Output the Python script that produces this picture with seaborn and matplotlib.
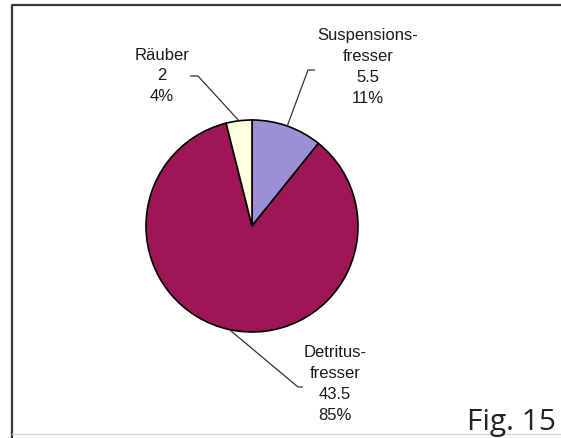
import matplotlib
matplotlib.use("Agg")
import matplotlib.pyplot as plt
import numpy as np
import seaborn as sns

# data
groups = ["Suspensions-\nfresser", "Detritus-\nfresser", "Räuber"]
values = [5.5, 43.5, 2]
colors = ["#9d8fd6", "#9e1656", "#ffffe0"]
fig_label = "Fig. 15"

sns.set_theme(style="white")
plt.rcParams["font.family"] = ["Liberation Sans", "DejaVu Sans"]

W, H = 561, 438
fig = plt.figure(figsize=(W / 100, H / 100), dpi=100, facecolor="white")
ax = fig.add_axes([0, 0, 1, 1])

cx, cy, r = 252, H - 226, 106
wedges, _ = ax.pie(values, colors=colors, startangle=90, counterclock=False,
                   center=(cx, cy), radius=r,
                   wedgeprops=dict(edgecolor="black", linewidth=1.2))
ax.set_xlim(0, W)
ax.set_ylim(0, H)
ax.set_aspect("auto")
ax.axis("off")

# label centre, elbow and end of the leader line (pixel coords from top)
label_xy = [(368, 67), (335, 384), (162, 76)]
leaders = [((308, 70), (315, 70)), ((298, 387), (303, 387)), ((198, 76), (190, 76))]

total = sum(values)
for w, g, v, (lx, ly), (e1, e2) in zip(wedges, groups, values, label_xy, leaders):
    pct = v / total * 100
    ax.text(lx, H - ly, f"{g}\n{v:g}\n{pct:.0f}%", ha="center", va="center",
            fontsize=12, color="#1a1a1a", linespacing=1.48)
    th = np.deg2rad((w.theta1 + w.theta2) / 2)
    px, py = cx + r * np.cos(th), cy + r * np.sin(th)
    ax.plot([px, e1[0], e2[0]], [py, H - e1[1], H - e2[1]],
            color="#333333", lw=0.9, solid_capstyle="butt")

# frame of the scanned figure
ax.plot([12, 12, W + 5], [-5, H - 5, H - 5], color="#3a3a3a", lw=1.6)
ax.plot([12, W + 5], [H - 434, H - 434], color="#d8d8d8", lw=1.0)

ax.text(467, H - 430, fig_label, fontsize=21.5, family=["Open Sans", "DejaVu Sans"],
        ha="left", va="baseline", color="#222222")

fig.savefig("out.png", dpi=100, facecolor="white")
